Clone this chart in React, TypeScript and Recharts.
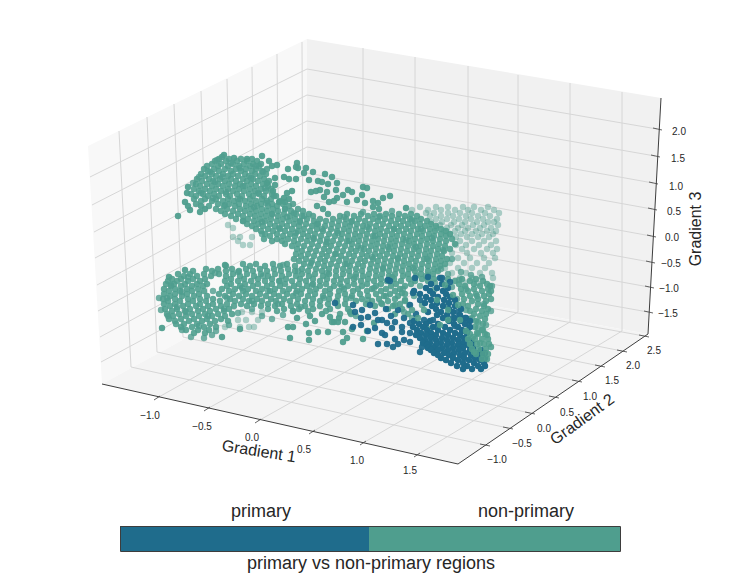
import React from 'react';
import { ScatterChart, Scatter, XAxis, YAxis, ReferenceLine, ReferenceArea } from 'recharts';

const GREEN = '#4f9e8e';
const BLUE = '#1f6c8c';
const FONT = '"Liberation Sans", Arial, sans-serif';

type Pt = [number, number];
type Row = [number, number[]];

const xTicks = ['\u22121.0', '\u22120.5', '0.0', '0.5', '1.0', '1.5'];
const xTickFloorFront: Pt[] = [[157, 398], [207, 409], [258, 421], [312, 432], [363, 443], [417, 455]];
const xTickFloorBack: Pt[] = [[363, 283], [415, 293], [468, 303], [518, 312], [570, 322], [622, 331]];
const xTickWallTop: Pt[] = [[363, 48], [415, 57], [468, 66], [518, 75], [570, 83], [622, 92]];
const xTickLabels: Pt[] = [[150, 415], [202, 426], [252, 437], [304, 449], [357, 460], [410, 470]];

const yTicks = ['\u22121.0', '\u22120.5', '0.0', '0.5', '1.0', '1.5', '2.0', '2.5'];
const yTickFloorFront: Pt[] = [[485, 445], [508, 428], [530, 413], [554, 397], [577, 381], [600, 366], [622, 351], [644, 336]];
const yTickFloorBack: Pt[] = [[131, 367], [157, 352], [183, 337], [208, 323], [232, 309], [255, 296], [279, 283], [303, 274]];
const yTickWallTop: Pt[] = [[119, 131], [147, 117], [174, 104], [201, 91], [227, 79], [252, 67], [277, 54], [302, 42]];
const yTickLabels: Pt[] = [[497, 459], [522, 443], [544, 428], [567, 412], [590, 396], [612, 380], [633, 365], [654, 350]];

const zTicks = ['2.0', '1.5', '1.0', '0.5', '0.0', '\u22120.5', '\u22121.0', '\u22121.5'];
const zTickRight: Pt[] = [[657, 129], [655, 156], [653, 183], [652, 209], [651, 236], [650, 262], [649, 287], [648, 312]];
const zTickBack: Pt[] = [[307, 69], [307, 95], [307, 121], [307, 147], [307, 173], [307, 199], [307, 225], [307, 251]];
const zTickLeft: Pt[] = [[90, 177], [92, 205], [94, 232], [95, 258], [97, 285], [98, 311], [100, 337], [101, 362]];
const zTickLabels: Pt[] = [[679, 131], [678, 158], [676, 186], [674, 211], [672, 237], [671, 263], [669, 288], [668, 313]];

const sparseGreen: Pt[] = [
  [178, 216], [185, 202], [188, 187], [187, 193], [190, 210], [188, 206], [200, 212], [205, 209], [201, 206],
  [224, 155], [222, 157], [234, 158], [247, 159], [262, 156], [269, 161], [277, 165], [272, 166], [297, 163],
  [288, 169], [296, 167], [298, 168], [306, 168], [313, 172], [304, 173], [325, 174], [332, 177], [284, 177],
  [289, 179], [296, 179], [309, 180], [318, 181], [322, 182], [328, 184], [337, 183], [311, 192], [316, 191],
  [320, 190], [327, 192], [336, 190], [337, 198], [329, 202], [334, 201], [324, 197], [317, 206], [323, 209],
  [328, 214], [275, 178], [267, 183], [275, 185], [292, 191], [287, 193], [273, 191], [284, 198], [285, 202],
  [279, 202], [289, 199], [390, 196], [383, 198], [378, 203], [373, 201], [363, 187], [367, 188], [362, 195],
  [348, 190], [343, 195], [352, 192], [347, 202], [357, 200], [365, 203], [373, 207], [379, 209], [406, 208],
  [162, 328], [222, 337], [240, 329], [288, 327], [293, 327], [290, 338], [309, 333], [309, 340], [318, 332],
  [328, 332], [306, 324], [315, 321], [334, 322], [343, 342], [347, 338], [363, 339], [332, 322], [339, 318],
  [345, 322], [338, 322], [343, 332], [352, 329], [367, 331], [374, 323], [169, 277], [185, 270], [225, 265],
  [322, 314], [330, 317], [350, 312], [310, 316], [297, 318],
];

const denseGreen: Row[] = [
  [159, [219, 229, 241, 252]],
  [161, [215, 226, 237, 247, 257]],
  [164, [212, 221, 233, 244, 253, 261]],
  [166, [207, 218, 228, 239, 250, 259]],
  [169, [204, 214, 225, 236, 246, 256, 267]],
  [171, [208, 219, 231, 241, 252, 262]],
  [174, [201, 212, 223, 233, 245, 255, 266]],
  [176, [205, 216, 228, 238, 249, 260]],
  [179, [197, 209, 220, 231, 243, 253, 264]],
  [181, [202, 213, 225, 236, 247, 258, 269]],
  [184, [196, 207, 218, 229, 240, 251, 263]],
  [186, [200, 212, 223, 235, 245, 256, 268]],
  [189, [194, 205, 216, 228, 239, 250, 261, 271]],
  [191, [199, 210, 221, 233, 244, 255, 266]],
  [194, [191, 203, 214, 226, 237, 249, 259, 272]],
  [196, [196, 208, 219, 230, 242, 253, 264, 276]],
  [199, [194, 205, 216, 228, 240, 250, 262, 271]],
  [201, [201, 212, 223, 234, 245, 256, 267, 280]],
  [204, [196, 218, 229, 239, 251, 261, 272, 283, 293]],
  [206, [209, 224, 235, 246, 257, 268, 277, 289]],
  [209, [216, 227, 240, 251, 262, 273, 285, 298]],
  [211, [221, 233, 245, 256, 267, 278, 291, 303]],
  [214, [225, 238, 250, 261, 272, 284, 296, 309, 347, 361, 374, 386, 399, 411]],
  [216, [231, 243, 255, 266, 278, 290, 302, 313, 340, 354, 368, 380, 392, 405, 417]],
  [219, [236, 248, 260, 271, 283, 295, 307, 320, 333, 346, 359, 373, 385, 398, 410, 421]],
  [221, [243, 254, 265, 277, 289, 300, 314, 326, 339, 352, 365, 378, 391, 403, 415, 427]],
  [224, [247, 258, 270, 282, 294, 306, 318, 332, 345, 357, 370, 383, 396, 408, 420, 431]],
  [226, [252, 263, 275, 287, 299, 312, 325, 338, 350, 363, 376, 389, 401, 413, 425, 436]],
  [229, [256, 268, 280, 292, 304, 317, 331, 344, 356, 369, 381, 394, 406, 418, 430, 441]],
  [231, [261, 273, 285, 298, 310, 323, 337, 349, 362, 375, 387, 399, 411, 423, 435, 446]],
  [234, [265, 277, 290, 303, 315, 329, 342, 355, 367, 380, 392, 404, 417, 429, 441, 450]],
  [236, [270, 283, 295, 308, 321, 335, 348, 360, 373, 385, 397, 410, 422, 434, 446]],
  [239, [264, 277, 288, 301, 314, 327, 341, 354, 366, 378, 391, 403, 415, 427, 440, 452]],
  [241, [272, 282, 294, 307, 320, 333, 347, 359, 372, 384, 396, 409, 421, 433, 446]],
  [244, [285, 298, 312, 326, 339, 352, 365, 377, 390, 402, 414, 427, 439, 455]],
  [246, [292, 304, 318, 331, 345, 358, 371, 383, 395, 408, 420, 433, 445]],
  [249, [297, 310, 324, 337, 351, 364, 376, 389, 401, 414, 426, 438, 450]],
  [251, [302, 316, 329, 343, 356, 369, 382, 394, 407, 419, 431, 444]],
  [254, [296, 308, 322, 335, 349, 362, 375, 387, 400, 412, 425, 437]],
  [256, [301, 314, 327, 341, 354, 367, 380, 393, 405, 418, 430, 442]],
  [259, [294, 306, 320, 333, 346, 360, 373, 385, 398, 411, 424, 436, 447]],
  [261, [299, 312, 325, 339, 352, 365, 378, 391, 404, 416, 429, 441]],
  [264, [243, 256, 273, 287, 304, 318, 331, 345, 358, 371, 384, 397, 409, 422, 435, 445]],
  [266, [226, 250, 265, 280, 295, 310, 324, 337, 350, 363, 377, 390, 403, 415, 428, 440]],
  [269, [206, 218, 232, 246, 260, 274, 288, 302, 316, 329, 343, 356, 370, 383, 396, 409, 421, 434]],
  [271, [193, 212, 226, 239, 253, 267, 281, 295, 308, 322, 336, 349, 362, 376, 389, 402, 415, 428, 438]],
  [274, [178, 190, 204, 219, 233, 247, 261, 275, 289, 302, 315, 329, 343, 356, 369, 382, 395, 408, 421, 433]],
  [276, [184, 197, 211, 226, 240, 254, 268, 282, 296, 309, 323, 336, 350, 363, 376, 389, 403, 416, 428]],
  [279, [172, 181, 193, 205, 231, 244, 258, 272, 286, 300, 313, 327, 341, 354, 368, 381, 394, 409, 422, 434, 448, 462, 476]],
  [281, [168, 177, 188, 200, 225, 238, 251, 265, 279, 292, 306, 320, 334, 347, 361, 374, 387, 401, 415, 428, 455, 470, 483]],
  [284, [166, 174, 185, 197, 207, 231, 245, 258, 272, 285, 299, 313, 326, 340, 354, 367, 381, 396, 411, 459, 474, 487]],
  [286, [171, 181, 192, 203, 227, 240, 253, 267, 280, 294, 307, 320, 334, 348, 362, 376, 391, 405, 465, 480, 490]],
  [289, [164, 175, 187, 198, 222, 235, 248, 262, 275, 289, 302, 316, 330, 344, 358, 372, 386, 400, 461, 474, 488]],
  [291, [169, 180, 192, 204, 229, 243, 256, 270, 283, 297, 310, 325, 339, 353, 367, 381, 395, 468, 482, 491]],
  [294, [164, 175, 187, 199, 219, 233, 246, 260, 274, 287, 301, 315, 330, 345, 360, 376, 390, 405, 462, 476, 489]],
  [296, [170, 182, 194, 207, 225, 239, 252, 266, 279, 293, 308, 323, 338, 352, 368, 384, 398, 470, 484]],
  [299, [163, 175, 188, 200, 213, 230, 243, 257, 271, 284, 298, 313, 329, 346, 362, 379, 395, 464, 478, 491]],
  [301, [168, 180, 193, 206, 220, 235, 249, 262, 276, 290, 305, 320, 337, 356, 372, 388, 405, 472, 486]],
  [304, [164, 175, 188, 200, 213, 227, 241, 254, 268, 282, 297, 312, 328, 345, 366, 382, 400, 463, 478]],
  [306, [170, 183, 196, 208, 221, 234, 247, 261, 275, 291, 305, 320, 338, 375, 393, 468, 484]],
  [309, [165, 177, 190, 203, 216, 229, 268, 284, 299, 313, 330, 348, 388, 402, 476, 488]],
  [311, [172, 185, 198, 210, 224, 277, 293, 308, 326, 470, 482]],
  [314, [167, 179, 192, 205, 218, 232, 340, 351, 395, 408, 474, 486]],
  [316, [173, 186, 199, 212, 225, 480]],
  [319, [169, 181, 194, 207, 221, 470, 485]],
  [321, [175, 189, 202, 215, 228, 476]],
  [324, [176, 184, 197, 210, 483, 467]],
  [327, [181, 192, 204, 216, 475]],
  [330, [186, 198, 209, 482, 468]],
  [333, [194, 205, 477]],
];

// loose marks that break up the edges and close the gaps in the dense band
const looseGreen: Pt[] = [
  [217, 160], [231, 163], [256, 166], [210, 172], [240, 168], [263, 172], [199, 177], [222, 177], [251, 178],
  [193, 183], [215, 182], [243, 186], [265, 188], [201, 193], [226, 192], [258, 193], [274, 196], [213, 198],
  [238, 199], [266, 203], [285, 209], [294, 213], [225, 205], [254, 207], [304, 216], [272, 214], [317, 224],
  [287, 217], [243, 221], [262, 222], [300, 222], [279, 228], [322, 229], [296, 233], [313, 238], [262, 234],
  [327, 242], [344, 217], [363, 212], [392, 211], [351, 222], [379, 217], [412, 220], [338, 233], [367, 227],
  [394, 229], [421, 229], [349, 241], [375, 236], [406, 240], [432, 238], [361, 248], [388, 247], [416, 247],
  [443, 250], [336, 254], [372, 257], [398, 258], [427, 259], [452, 259], [311, 263], [347, 264], [383, 268],
  [413, 268], [441, 269], [283, 265], [298, 271], [327, 273], [356, 277], [392, 277], [426, 276], [448, 274],
  [238, 272], [263, 276], [215, 273], [188, 277], [171, 285], [280, 281], [312, 285], [342, 287], [374, 288],
  [403, 289], [420, 286], [434, 290], [452, 287], [461, 272], [447, 296], [414, 296], [409, 305], [422, 305],
  [242, 288], [268, 291], [182, 292], [167, 298], [296, 293], [324, 298], [351, 298], [386, 296], [213, 291],
  [227, 298], [252, 301], [278, 304], [301, 307], [177, 307], [159, 298], [161, 310], [168, 316], [186, 312],
  [208, 316], [224, 309], [238, 313], [252, 309], [262, 316], [272, 319], [283, 315], [293, 311], [356, 316],
  [368, 300], [381, 303], [404, 312], [412, 318], [182, 330], [199, 326], [216, 331], [229, 325], [191, 337],
  [204, 338], [212, 335], [466, 289], [477, 296], [492, 286], [484, 304], [491, 311], [472, 318], [486, 325],
  [478, 328], [466, 310], [457, 299], [471, 275], [482, 277], [459, 280], [435, 283], [444, 306], [429, 329],
];

const backGreen: Row[] = [
  [207, [420, 436, 448, 463, 474, 488]],
  [210, [412, 428, 441, 455, 468, 481, 494]],
  [213, [426, 434, 448, 460, 472, 485, 499]],
  [216, [430, 441, 453, 466, 478, 490]],
  [219, [436, 447, 459, 471, 483, 497]],
  [222, [431, 442, 454, 465, 477, 488, 494]],
  [225, [440, 451, 462, 473, 484, 498, 228]],
  [228, [436, 447, 458, 468, 480, 491, 233]],
  [231, [444, 455, 465, 476, 487, 496]],
  [234, [450, 461, 472, 482, 493]],
  [237, [456, 467, 478, 489, 233, 240, 252]],
  [241, [460, 472, 484, 496, 238]],
  [245, [456, 466, 479, 491, 243, 250]],
  [249, [462, 474, 487, 497]],
  [253, [452, 467, 481, 493]],
  [258, [458, 470, 484, 495]],
  [263, [450, 464, 477, 489]],
  [268, [445, 458, 472, 485]],
  [273, [452, 466, 480, 492]],
  [278, [441, 460, 472, 493]],
  [283, [445, 465, 477]],
  [312, [242, 252, 262]],
  [320, [238, 246, 258]],
  [327, [225, 240, 249, 254]],
];

const sparsePrimary: Pt[] = [
  [378, 344], [387, 344], [393, 347], [395, 339], [404, 340], [398, 344], [410, 342], [420, 352], [422, 347],
  [385, 335], [382, 333], [375, 328], [368, 331], [361, 325], [353, 327], [361, 318], [353, 305], [335, 303],
  [370, 305], [362, 310], [355, 312], [375, 313], [382, 320], [387, 323], [395, 322], [402, 327], [410, 323],
  [392, 328], [402, 332], [410, 333], [440, 278], [428, 277], [390, 281], [413, 293], [415, 278], [442, 278],
  [450, 282], [433, 320], [453, 318], [465, 318], [388, 280], [368, 317], [378, 320], [391, 316], [404, 318],
  [416, 314], [424, 320], [398, 310], [410, 305], [386, 309], [420, 300], [455, 326], [462, 331], [458, 312],
];

const densePrimary: Row[] = [
  [284, [431, 442]],
  [288, [426, 437, 448]],
  [291, [414, 430, 443]],
  [294, [420, 433, 446]],
  [297, [426, 438, 450]],
  [300, [431, 444, 455]],
  [303, [425, 437, 449]],
  [306, [432, 443, 455]],
  [309, [436, 449, 461]],
  [312, [428, 441, 453]],
  [315, [437, 447, 460]],
  [318, [443, 455, 466]],
  [321, [414, 430, 449, 461, 470]],
  [324, [419, 426, 438, 454, 465]],
  [327, [413, 423, 433, 445, 458, 470]],
  [330, [417, 427, 438, 450, 462]],
  [333, [421, 431, 443, 455, 467]],
  [335, [416, 426, 436, 448, 460]],
  [338, [420, 431, 442, 453, 464]],
  [340, [425, 436, 447, 458, 469]],
  [343, [423, 430, 441, 452, 463, 472]],
  [345, [427, 436, 447, 458, 468]],
  [348, [428, 433, 442, 453, 463, 473]],
  [350, [431, 438, 448, 459, 470, 481]],
  [353, [434, 444, 454, 465, 476, 485]],
  [355, [438, 449, 460, 471, 481]],
  [358, [441, 453, 464, 475, 485]],
  [360, [446, 458, 469, 480]],
  [363, [451, 463, 474, 484]],
  [366, [457, 467, 478, 485]],
  [369, [463, 472, 481]],
];

const frontGreen: Pt[] = [
  [470, 334], [478, 334], [485, 334], [468, 339], [475, 339], [482, 339], [488, 339], [470, 344], [477, 344],
  [484, 344], [489, 344], [472, 349], [479, 349], [486, 349], [476, 354], [483, 354], [488, 354], [482, 359],
  [487, 359], [445, 285], [453, 295], [458, 305], [448, 320], [440, 325], [424, 310], [418, 318], [405, 300],
  [412, 310], [395, 305], [402, 293], [460, 320], [437, 300], [448, 310], [473, 337], [480, 343], [474, 352],
  [466, 331], [483, 330], [478, 322], [487, 335], [491, 347],
];

const barSegments = [
  { label: 'primary', from: 120, to: 369, color: BLUE },
  { label: 'non-primary', from: 369, to: 620, color: GREEN },
];
const barBorder: Pt[] = [[120.5, 526.5], [620.5, 526.5], [620.5, 551.5], [120.5, 551.5], [120.5, 526.5]];

const toPoints = (pts: Pt[]) => pts.map(([x, y]) => ({ x, y }));
const fromRows = (rows: Row[]) => rows.flatMap(([y, xs]) => xs.map((x) => ({ x, y })));

const seg = (a: Pt, b: Pt) => [{ x: a[0], y: a[1] }, { x: b[0], y: b[1] }] as any;

const Dot = (fill: string, opacity: number) => (props: any) => (
  <circle cx={props.cx} cy={props.cy} r={3.2} fill={fill} fillOpacity={opacity} />
);

const Label = ({ x, y, size = 10, rotate = 0, children }: any) => (
  <text
    x={x}
    y={y}
    fontFamily={FONT}
    fontSize={size}
    fill="#262626"
    textAnchor="middle"
    dominantBaseline="central"
    transform={rotate ? `rotate(${rotate} ${x} ${y})` : undefined}
  >
    {children}
  </text>
);

const App = () => {
  const grid = (a: Pt, b: Pt, key: string) => (
    <ReferenceLine key={key} segment={seg(a, b)} stroke="#d6d6d6" strokeWidth={1} ifOverflow="visible" />
  );
  const axis = (a: Pt, b: Pt, key: string, w = 1) => (
    <ReferenceLine key={key} segment={seg(a, b)} stroke="#3d3d3d" strokeWidth={w} ifOverflow="visible" />
  );

  return (
    <div style={{ position: 'absolute', left: 0, top: 0, background: '#fff' }}>
      <ScatterChart width={739} height={580} margin={{ top: 0, right: 0, bottom: 0, left: 0 }}>
        <XAxis type="number" dataKey="x" domain={[0, 739]} hide />
        <YAxis type="number" dataKey="y" domain={[0, 580]} reversed hide />

        <polygon points="88,146 307,39 307,272 102,384" fill="#f8f8f8" />
        <polygon points="307,39 661,98 648,334 307,272" fill="#f1f1f1" />
        <polygon points="102,384 307,272 648,334 458,464" fill="#f4f4f4" />

        {xTickFloorFront.map((p, i) => grid(p, xTickFloorBack[i], `xf${i}`))}
        {xTickFloorBack.map((p, i) => grid(p, xTickWallTop[i], `xw${i}`))}
        {yTickFloorFront.map((p, i) => grid(p, yTickFloorBack[i], `yf${i}`))}
        {yTickFloorBack.map((p, i) => grid(p, yTickWallTop[i], `yw${i}`))}
        {zTickRight.map((p, i) => grid(p, zTickBack[i], `zr${i}`))}
        {zTickBack.map((p, i) => grid(p, zTickLeft[i], `zl${i}`))}

        {axis([102, 384], [458, 464], 'ax')}
        {axis([458, 464], [648, 334], 'ay')}
        {axis([648, 334], [661, 98], 'az')}
        {xTickFloorFront.map((p, i) => axis([p[0] - 3, p[1] + 2], [p[0] + 3, p[1] - 2], `xt${i}`, 0.8))}
        {yTickFloorFront.map((p, i) => axis([p[0] - 5, p[1] - 1], [p[0] + 5, p[1] + 1], `yt${i}`, 0.8))}
        {zTickRight.map((p, i) => axis([p[0] - 4, p[1] - 1], [p[0] + 5, p[1] + 1], `zt${i}`, 0.8))}

        <Scatter data={fromRows(backGreen)} shape={Dot(GREEN, 0.45)} isAnimationActive={false} />
        <Scatter data={toPoints(sparseGreen)} shape={Dot(GREEN, 0.95)} isAnimationActive={false} />
        <Scatter data={fromRows(denseGreen)} shape={Dot(GREEN, 0.9)} isAnimationActive={false} />
        <Scatter data={toPoints(looseGreen)} shape={Dot(GREEN, 0.8)} isAnimationActive={false} />
        <Scatter data={toPoints(sparsePrimary)} shape={Dot(BLUE, 0.95)} isAnimationActive={false} />
        <Scatter data={fromRows(densePrimary)} shape={Dot(BLUE, 1)} isAnimationActive={false} />
        <Scatter data={toPoints(frontGreen)} shape={Dot(GREEN, 0.9)} isAnimationActive={false} />

        {barSegments.map((s) => (
          <ReferenceArea key={s.label} x1={s.from} x2={s.to} y1={526} y2={551} fill={s.color} fillOpacity={1} stroke="none" ifOverflow="visible" />
        ))}
        {barBorder.slice(1).map((p, i) => axis(barBorder[i], p, `bb${i}`))}

        {xTicks.map((t, i) => <Label key={t} x={xTickLabels[i][0]} y={xTickLabels[i][1]}>{t}</Label>)}
        {yTicks.map((t, i) => <Label key={t} x={yTickLabels[i][0]} y={yTickLabels[i][1]}>{t}</Label>)}
        {zTicks.map((t, i) => <Label key={t} x={zTickLabels[i][0]} y={zTickLabels[i][1]}>{t}</Label>)}

        <Label x={259} y={451} size={16} rotate={9}>Gradient 1</Label>
        <Label x={582} y={419} size={16} rotate={-36}>Gradient 2</Label>
        <Label x={695} y={229} size={16} rotate={-90}>Gradient 3</Label>

        <Label x={261} y={511} size={18}>primary</Label>
        <Label x={526} y={511} size={18}>non-primary</Label>
        <Label x={371} y={563} size={18}>primary vs non-primary regions</Label>
      </ScatterChart>
    </div>
  );
};

export default App;
